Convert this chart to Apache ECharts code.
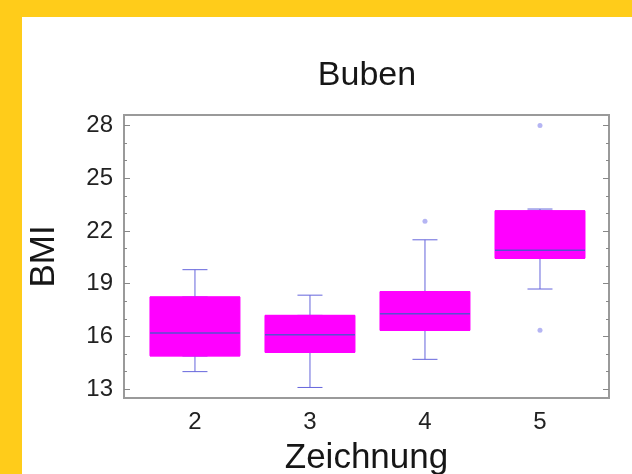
<!DOCTYPE html>
<html>
<head>
<meta charset="utf-8">
<script src="https://cdn.jsdelivr.net/npm/echarts@6/dist/echarts.min.js"></script>
<style>
  html, body { margin: 0; padding: 0; width: 632px; height: 474px; overflow: hidden; background: #FFCC1A; }
  #paper { position: absolute; left: 22px; top: 17px; right: 0; bottom: 0; background: #ffffff; }
  #chart { position: absolute; left: 0; top: 0; width: 632px; height: 474px; }
</style>
</head>
<body>
<div id="paper"></div>
<div id="chart"></div>
<script>
// ---- data ----
const categories = [2, 3, 4, 5];
const minVals    = [14.0, 13.1, 14.7, 18.7];
const q1Vals     = [14.9, 15.1, 16.35, 20.45];
const medianVals = [16.2, 16.1, 17.3, 20.9];
const q3Vals     = [18.25, 17.2, 18.55, 23.15];
const maxVals    = [19.8, 18.35, 21.5, 23.25];
const outlierX   = [4, 5, 5];
const outlierY   = [22.55, 28.0, 16.35];
const yLabelValues = [13, 16, 19, 22, 25, 28];
const yMinorValues = [13, 14, 15, 16, 17, 18, 19, 20, 21, 22, 23, 24, 25, 26, 27, 28];
const titleText = 'Buben';
const xName = 'Zeichnung';
const yName = 'BMI';

// ---- build series data ----
const whiskerData = categories.map((c, i) => [c, minVals[i], q1Vals[i], q1Vals[i], q3Vals[i], maxVals[i]]);
const boxData     = categories.map((c, i) => [c, q1Vals[i], q1Vals[i], q1Vals[i], q3Vals[i], q3Vals[i]]);
const medianData  = categories.map((c, i) => [c, medianVals[i], medianVals[i], medianVals[i], medianVals[i], medianVals[i]]);
const outlierData = outlierX.map((x, i) => [x, outlierY[i]]);

const FONT = 'Liberation Sans, Arial, Helvetica, sans-serif';
const BLUE = '#6565dc';
const MAGENTA = '#ff00ff';
const GRAY = '#9a9a9a';
const X_MIN = 1.383, X_MAX = 5.6;
const Y_MIN = 12.5, Y_MAX = 28.6;

function hiddenX() {
  return { type: 'value', min: X_MIN, max: X_MAX, show: false, gridIndex: 0 };
}
function yAx(pos, tickVals, tickLen, withLabels) {
  return {
    type: 'value', position: pos, min: Y_MIN, max: Y_MAX,
    splitLine: { show: false },
    axisLine: { show: false },
    axisTick: { show: true, inside: true, length: tickLen, customValues: tickVals,
                lineStyle: { color: '#888', width: 1 } },
    axisLabel: withLabels ? { show: true, customValues: yLabelValues, fontFamily: FONT, fontSize: 24,
                color: '#222', margin: 11 } : { show: false },
    name: withLabels ? yName : '',
    nameLocation: 'middle', nameRotate: 90, nameGap: 62,
    nameTextStyle: { fontFamily: FONT, fontSize: 35, color: '#161616' }
  };
}

const chart = echarts.init(document.getElementById('chart'), null, { renderer: 'canvas' });
chart.setOption({
  backgroundColor: 'transparent',
  animation: false,
  graphic: [{
    type: 'text', x: 367, y: 59,
    style: { text: titleText, textAlign: 'center', fontFamily: FONT, fontSize: 34, fill: '#161616' }
  }],
  grid: {
    left: 124, top: 115, width: 485, height: 283,
    outerBoundsMode: 'none', containLabel: false,
    show: true, borderColor: GRAY, borderWidth: 2, backgroundColor: 'transparent'
  },
  xAxis: [
    {
      type: 'value', min: X_MIN, max: X_MAX,
      splitLine: { show: false }, axisLine: { show: false }, axisTick: { show: false },
      axisLabel: { customValues: categories, fontFamily: FONT, fontSize: 24, color: '#222', margin: 12 },
      name: xName, nameLocation: 'middle', nameGap: 43,
      nameTextStyle: { fontFamily: FONT, fontSize: 35, color: '#161616' }
    },
    hiddenX(), hiddenX()
  ],
  yAxis: [
    yAx('left', yLabelValues, 6, true),
    yAx('left', yMinorValues, 3, false),
    yAx('right', yLabelValues, 6, false),
    yAx('right', yMinorValues, 3, false)
  ],
  series: [
    {
      type: 'boxplot', xAxisIndex: 0, yAxisIndex: 0, data: whiskerData,
      boxWidth: [25, 25],
      itemStyle: { color: 'transparent', borderColor: BLUE, borderWidth: 1 },
      silent: true
    },
    {
      type: 'boxplot', xAxisIndex: 1, yAxisIndex: 0, data: boxData,
      boxWidth: [90, 90],
      itemStyle: { color: MAGENTA, borderColor: MAGENTA, borderWidth: 1 },
      silent: true
    },
    {
      type: 'boxplot', xAxisIndex: 2, yAxisIndex: 0, data: medianData,
      boxWidth: [90, 90],
      itemStyle: { color: 'transparent', borderColor: '#5a4fd0', borderWidth: 1.5 },
      silent: true
    },
    {
      type: 'scatter', xAxisIndex: 0, yAxisIndex: 0, data: outlierData,
      symbol: 'circle', symbolSize: 5,
      itemStyle: { color: '#a3a3f0' }
    }
  ]
});
</script>
</body>
</html>
